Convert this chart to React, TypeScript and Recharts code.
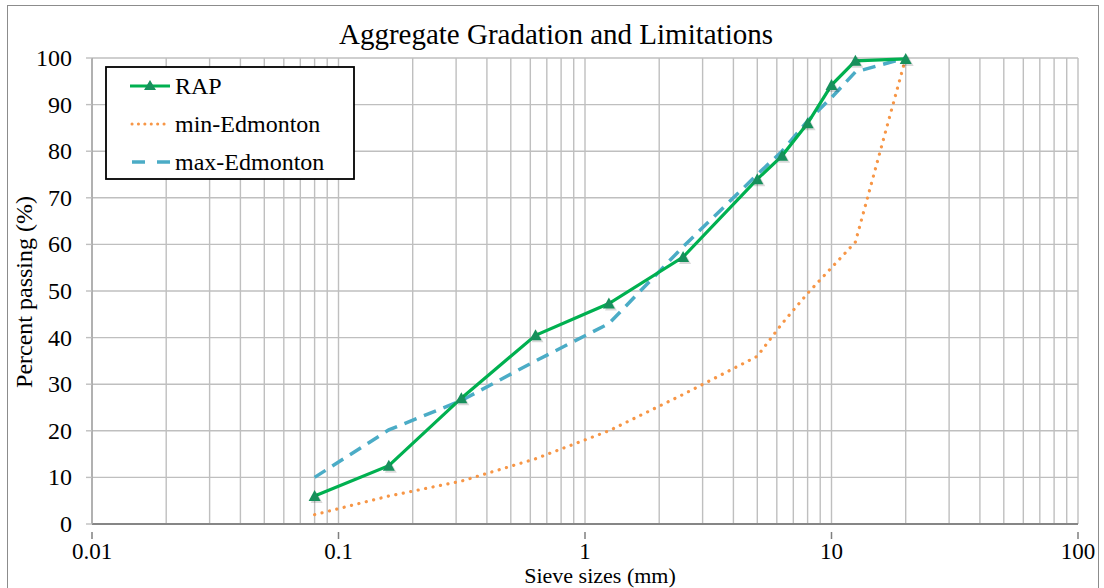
import { LineChart, Line, XAxis, YAxis, CartesianGrid } from 'recharts'

// Sieve sizes (mm) and percent passing for each gradation curve
const sieveSizes = [0.08, 0.16, 0.315, 0.63, 1.25, 2.5, 5, 6.3, 8, 10, 12.5, 20]
const rap = [6, 12.5, 27, 40.5, 47.3, 57.3, 74, 79, 86, 94.2, 99.4, 99.8]
const minEdmonton = [2, 6, 9.2, 14, 20, 27.8, 36, 43, 49.5, 55, 60.5, 100]
const maxEdmonton = [10, 20.2, 26.5, 35, 43, 59.5, 75, 80, 86.5, 91.5, 97, 100]

const decadeTicks = [0.01, 0.1, 1, 10, 100]
const decadeLabels = ['0.01', '0.1', '1', '10', '100']
const yTicks = [0, 10, 20, 30, 40, 50, 60, 70, 80, 90, 100]

const GREEN = '#00B050'
const MARKER = '#17905C'
const ORANGE = '#F79646'
const BLUE = '#4BACC6'
const GRID = '#BFBFBF'
const FONT = '"Liberation Serif", "Times New Roman", serif'

const data = sieveSizes.map((size, i) => ({
	size,
	rap: rap[i],
	min: minEdmonton[i],
	max: maxEdmonton[i],
}))

// log gridlines: 1..9 within every decade, plus the closing 100
const xTicks: number[] = []
decadeTicks.slice(0, -1).forEach((d) => {
	for (let k = 1; k < 10; k++) xTicks.push(Number((d * k).toPrecision(3)))
})
xTicks.push(100)

function XTick({ x, y, payload }: any) {
	const idx = decadeTicks.indexOf(payload.value)
	if (idx < 0) return null
	return (
		<g>
			<line x1={x} x2={x} y1={y} y2={y + 7} stroke="#7F7F7F" strokeWidth={1.5} />
			<text x={x} y={y + 27} textAnchor="middle" fontFamily={FONT} fontSize={23} fill="#000">
				{decadeLabels[idx]}
			</text>
		</g>
	)
}

function YTick({ x, y, payload }: any) {
	return (
		<text x={x} y={y + 8} textAnchor="end" fontFamily={FONT} fontSize={24} fill="#000">
			{payload.value}
		</text>
	)
}

function TriangleDot({ cx, cy }: any) {
	if (cx == null || cy == null) return null
	const pts = (dx: number, dy: number) =>
		`${cx + dx},${cy - 6 + dy} ${cx + 6 + dx},${cy + 5 + dy} ${cx - 6 + dx},${cy + 5 + dy}`
	return (
		<g>
			<polygon points={pts(2, 2)} fill="#000" opacity={0.15} />
			<polygon points={pts(0, 0)} fill={MARKER} />
		</g>
	)
}

function LegendBox() {
	return (
		<svg width={250} height={114} style={{ position: 'absolute', left: 105, top: 66 }}>
			<rect x={1} y={1} width={248} height={112} fill="#fff" stroke="#000" strokeWidth={1.8} />
			<line x1={25} x2={65} y1={20} y2={20} stroke={GREEN} strokeWidth={3} />
			<polygon points="45,14 51,24 39,24" fill={MARKER} />
			<text x={70} y={28} fontFamily={FONT} fontSize={24}>RAP</text>
			<line x1={27} x2={65} y1={58} y2={58} stroke={ORANGE} strokeWidth={3} strokeDasharray="0.1 6.3" strokeLinecap="round" />
			<text x={70} y={66} fontFamily={FONT} fontSize={24}>min-Edmonton</text>
			<line x1={27} x2={65} y1={96} y2={96} stroke={BLUE} strokeWidth={3.5} strokeDasharray="13 12" />
			<text x={70} y={104} fontFamily={FONT} fontSize={24}>max-Edmonton</text>
		</svg>
	)
}

export default function App() {
	return (
		<div style={{ position: 'absolute', left: 0, top: 0, width: 1104, height: 588, background: '#fff', overflow: 'hidden', fontFamily: FONT }}>
			<div style={{ position: 'absolute', left: 7, top: 5, width: 1090, height: 600, border: '1.5px solid #8C8C8C' }} />
			<svg width={1104} height={60} style={{ position: 'absolute', left: 0, top: 0 }}>
				<text x={556} y={44} textAnchor="middle" fontFamily={FONT} fontSize={29} fill="#000">
					Aggregate Gradation and Limitations
				</text>
			</svg>
			<LineChart
				width={1104}
				height={588}
				data={data}
				margin={{ top: 58, right: 26, bottom: 0, left: 0 }}
				style={{ position: 'absolute', left: 0, top: 0 }}
			>
				<CartesianGrid stroke={GRID} strokeWidth={1.4} />
				<XAxis
					dataKey="size"
					type="number"
					scale="log"
					domain={[0.01, 100]}
					ticks={xTicks}
					interval={0}
					height={64}
					tickLine={false}
					axisLine={{ stroke: '#868686', strokeWidth: 2 }}
					tick={<XTick />}
					label={{
						content: () => (
							<text x={600} y={583} textAnchor="middle" fontFamily={FONT} fontSize={22} fill="#000">
								Sieve sizes (mm)
							</text>
						),
					}}
				/>
				<YAxis
					type="number"
					domain={[0, 100]}
					ticks={yTicks}
					interval={0}
					width={92}
					tickSize={6}
					tickMargin={14}
					tickLine={{ stroke: GRID, strokeWidth: 1.4 }}
					axisLine={{ stroke: '#A6A6A6', strokeWidth: 1.5 }}
					tick={<YTick />}
					label={{
						content: () => (
							<text
								x={0}
								y={0}
								transform="translate(32 292) rotate(-90)"
								textAnchor="middle"
								fontFamily={FONT}
								fontSize={24}
								fill="#000"
							>
								Percent passing  (%)
							</text>
						),
					}}
				/>
				<Line
					dataKey="min"
					stroke={ORANGE}
					strokeWidth={3.2}
					strokeDasharray="0.1 7.5"
					strokeLinecap="round"
					dot={false}
					isAnimationActive={false}
				/>
				<Line
					dataKey="max"
					stroke={BLUE}
					strokeWidth={3.5}
					strokeDasharray="13 8"
					dot={false}
					isAnimationActive={false}
				/>
				<Line
					dataKey="rap"
					stroke={GREEN}
					strokeWidth={3.2}
					dot={<TriangleDot />}
					activeDot={false}
					isAnimationActive={false}
				/>
			</LineChart>
			<LegendBox />
		</div>
	)
}
